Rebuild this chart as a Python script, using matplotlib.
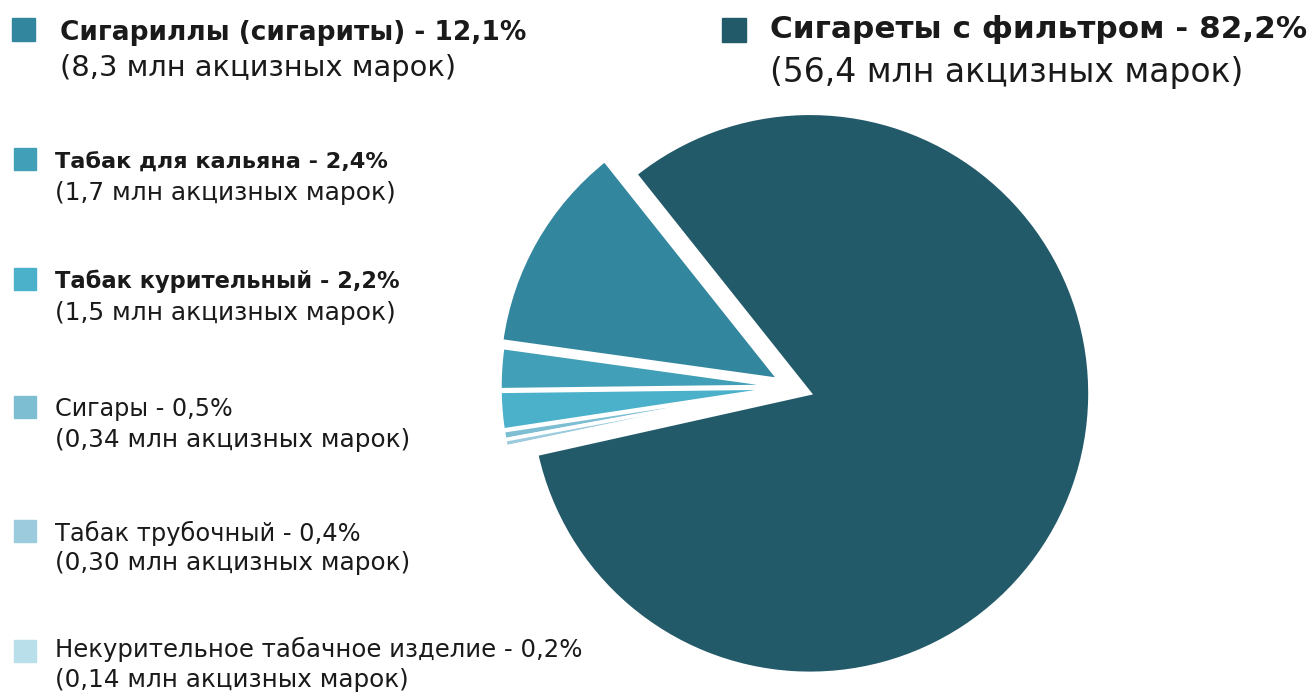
import matplotlib.pyplot as plt
from matplotlib.patches import Rectangle

# данные
categories = ['Сигариллы (сигариты)', 'Табак для кальяна', 'Табак курительный',
              'Сигары', 'Табак трубочный', 'Некурительное табачное изделие',
              'Сигареты с фильтром']
shares = [12.1, 2.4, 2.2, 0.5, 0.4, 0.2, 82.2]
stamps = ['8,3', '1,7', '1,5', '0,34', '0,30', '0,14', '56,4']

colors = ['#32869e', '#41a0b7', '#4bb1cb', '#7dbed2', '#9ccbdd', '#b8dfea', '#235a6a']
# смещение секторов (в пикселях, т.к. оси в пиксельных координатах)
explode = [15, 12, 12, 12, 12, 12, 19]

W, H = 1313, 693
fig = plt.figure(figsize=(W / 100, H / 100), dpi=100)
ax = fig.add_axes([0, 0, 1, 1])

ax.pie(shares, colors=colors, explode=explode, startangle=128.5, counterclock=True,
       center=(792, H - 387), radius=280,
       wedgeprops=dict(edgecolor='white', linewidth=2.5))
ax.set_xlim(0, W)
ax.set_ylim(0, H)
ax.set_aspect('equal')
ax.axis('off')

renderer = fig.canvas.get_renderer()


def fit_text(x, y, s, width, bold=False):
    # подбираем размер шрифта под ширину строки в пикселях
    t = ax.text(x, H - y, s, fontsize=20, va='baseline', ha='left', color='#1a1a1a',
                fontweight='bold' if bold else 'normal', family='DejaVu Sans')
    w = t.get_window_extent(renderer).width
    t.set_fontsize(20 * width / w)
    return t


def pct(v):
    return f'{v:.1f}'.replace('.', ',') + '%'


# позиции подписей: (x квадрата, y квадрата, размер, x текста, базовая линия 1, ширина 1, базовая линия 2, ширина 2, жирный)
layout = [
    (12, 18, 23, 60, 40, 467, 76, 395, True),
    (14, 148, 22, 55, 169, 333, 200, 340, True),
    (14, 268, 22, 55, 288, 345, 320, 340, True),
    (14, 396, 22, 55, 416, 178, 447, 355, False),
    (14, 520, 22, 55, 541, 305, 570, 355, False),
    (14, 640, 22, 55, 657, 525, 687, 353, False),
    (722, 18, 24, 770, 38, 538, 82, 473, True),
]

for i, (sx, sy, ss, tx, b1, w1, b2, w2, bold) in enumerate(layout):
    ax.add_patch(Rectangle((sx, H - sy - ss), ss, ss, color=colors[i]))
    fit_text(tx, b1, f'{categories[i]} - {pct(shares[i])}', w1, bold)
    fit_text(tx, b2, f'({stamps[i]} млн акцизных марок)', w2)

fig.savefig('out.png', dpi=100)
